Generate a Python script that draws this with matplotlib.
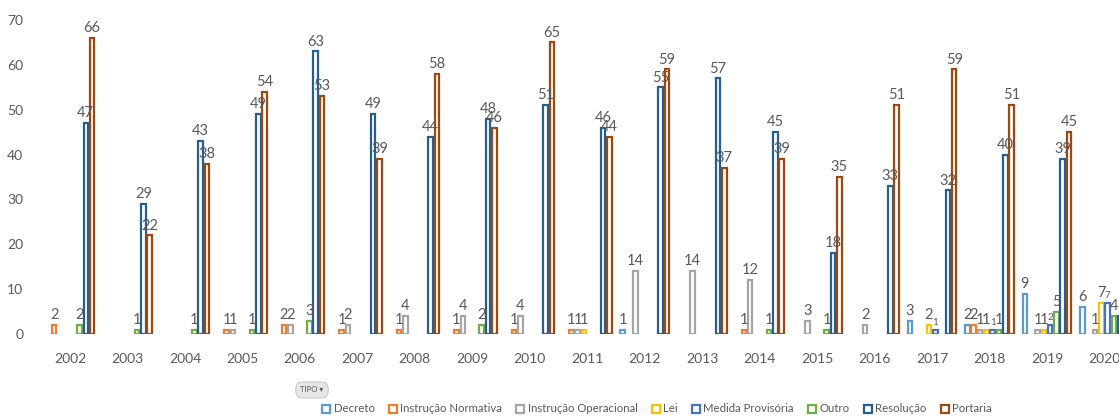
import numpy as np
import matplotlib.pyplot as plt

nan = np.nan

years = ['2002', '2003', '2004', '2005', '2006', '2007', '2008', '2009', '2010', '2011',
         '2012', '2013', '2014', '2015', '2016', '2017', '2018', '2019', '2020']

decreto = [nan, nan, nan, nan, nan, nan, nan, nan, nan, nan, 1, nan, nan, nan, nan, 3, 2, 9, 6]
instr_normativa = [2, nan, nan, 1, 2, 1, 1, 1, 1, 1, nan, nan, 1, nan, nan, nan, 2, nan, nan]
instr_operacional = [nan, nan, nan, 1, 2, 2, 4, 4, 4, 1, 14, 14, 12, 3, 2, nan, 1, 1, 1]
lei = [nan, nan, nan, nan, nan, nan, nan, nan, nan, 1, nan, nan, nan, nan, nan, 2, 1, 1, 7]
medida_provisoria = [nan, nan, nan, nan, nan, nan, nan, nan, nan, nan, nan, nan, nan, nan, nan, 1, 1, 2, 7]
outro = [2, 1, 1, 1, 3, nan, nan, 2, nan, nan, nan, nan, 1, 1, nan, nan, 1, 5, 4]
resolucao = [47, 29, 43, 49, 63, 49, 44, 48, 51, 46, 55, 57, 45, 18, 33, 32, 40, 39, 4]
portaria = [66, 22, 38, 54, 53, 39, 58, 46, 65, 44, 59, 37, 39, 35, 51, 59, 51, 45, nan]

series_names = ['Decreto', 'Instrução Normativa', 'Instrução Operacional', 'Lei',
                'Medida Provisória', 'Outro', 'Resolução', 'Portaria']
series_values = [decreto, instr_normativa, instr_operacional, lei,
                 medida_provisoria, outro, resolucao, portaria]
colors = ['#5B9BD5', '#ED7D31', '#A5A5A5', '#FFC000',
          '#4472C4', '#70AD47', '#255E91', '#9E480E']

plt.rcParams['font.family'] = ['Lato', 'DejaVu Sans']
text_color = '#595959'

fig = plt.figure(figsize=(11.19, 4.17), dpi=100)
ax = fig.add_axes([40 / 1119, 83 / 417, 1 - 40 / 1119, 314 / 417])

x = np.arange(len(years))
slot = 0.11
width = 0.08
handles = []
for k, (name, vals, col) in enumerate(zip(series_names, series_values, colors)):
    pos = x + (k - 3.5) * slot
    vals = np.array(vals, dtype=float)
    mask = ~np.isnan(vals)
    bars = ax.bar(pos[mask], vals[mask], width=width, facecolor='white',
                  edgecolor=col, linewidth=1.6, label=name)
    handles.append(bars)
    # medida provisoria labels are drawn smaller in the original
    fs = 7 if name == 'Medida Provisória' else 10.5
    for p, v in zip(pos[mask], vals[mask]):
        ax.annotate(f'{int(v)}', (p, v), xytext=(0, 2), textcoords='offset points',
                    ha='center', va='bottom', fontsize=fs, color=text_color)

ax.set_xlim(-30 / 57.47, (1119 - 70) / 57.47)
ax.set_ylim(0, 70)
ax.set_yticks(range(0, 71, 10))
ax.set_xticks(x)
ax.set_xticklabels(years)
ax.tick_params(axis='both', length=0, colors=text_color, labelsize=10)
ax.tick_params(axis='x', pad=14)
ax.tick_params(axis='y', pad=12)
for s in ax.spines.values():
    s.set_visible(False)
ax.patch.set_alpha(0)

# pivot field button
fig.text(312 / 1119, 1 - 390 / 417, 'TIPO ▾', fontsize=5.5, color=text_color,
         ha='center', va='center',
         bbox=dict(boxstyle='round,pad=0.6,rounding_size=0.9', facecolor='#E6E6E6',
                   edgecolor='#BFBFBF', linewidth=0.6))

fig.legend(handles=handles, labels=series_names, loc='center', ncol=8,
           bbox_to_anchor=(657 / 1119, 1 - 409 / 417), frameon=False,
           fontsize=8.2, labelcolor=text_color, handlelength=0.7, handleheight=0.7,
           handletextpad=0.3, columnspacing=1.25)

fig.savefig('out.png', dpi=100)
